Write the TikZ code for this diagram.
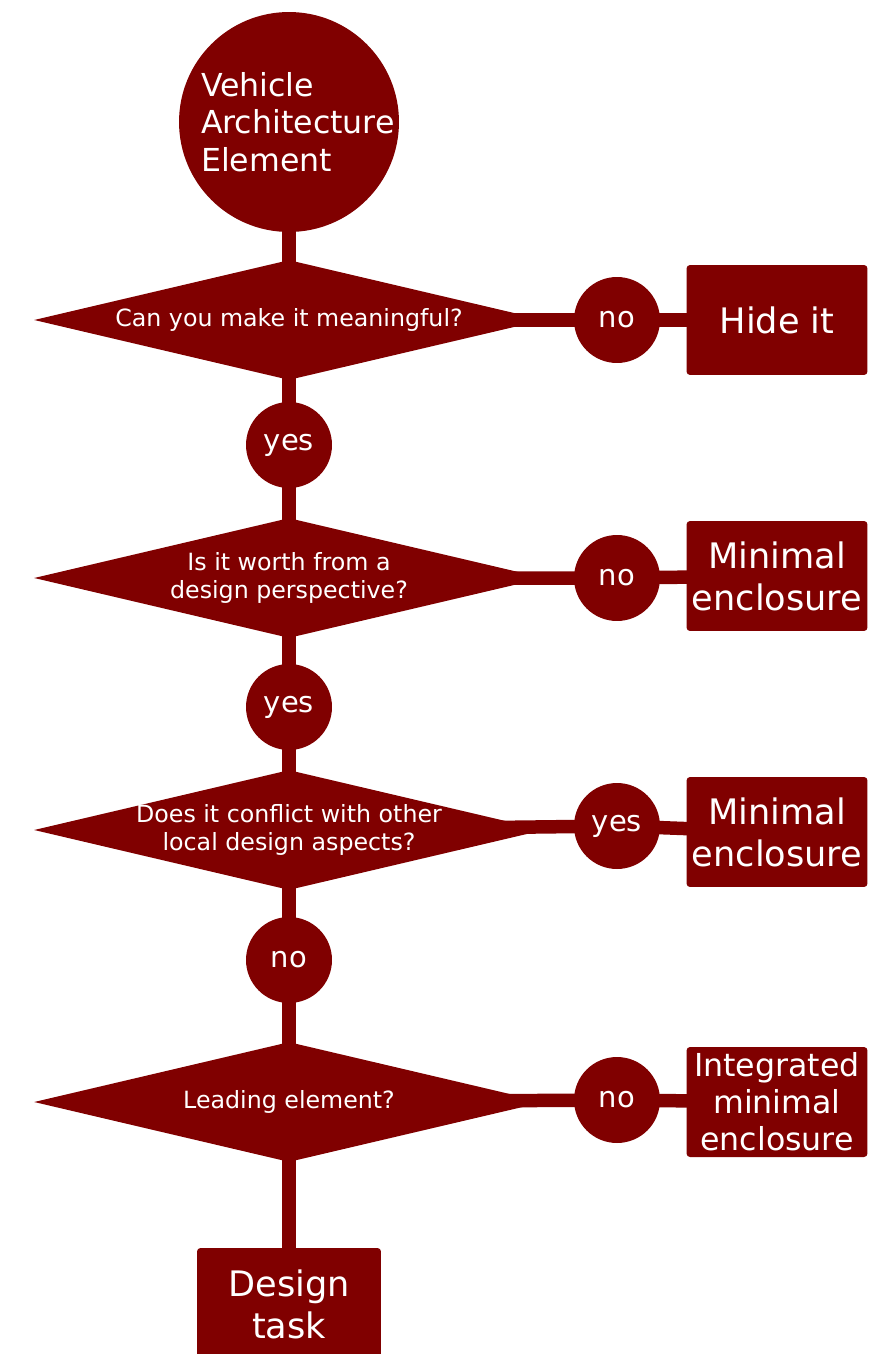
\documentclass[tikz,border=0pt]{standalone}
\usepackage{fontspec}
\setmainfont{DejaVu Sans}
\usetikzlibrary{shapes.geometric,backgrounds}
\definecolor{maroon}{HTML}{800000}

\begin{document}
\begin{tikzpicture}[x=0.02cm, y=-0.02cm,
    every node/.style={fill=maroon, text=white, inner sep=0pt},
    link/.style={draw=maroon, line width=0.27cm},
    question/.style={diamond, aspect=4.25, inner sep=-3pt, minimum width=10.2cm,
      minimum height=2.4cm, align=center, font=\fontsize{13.5}{15.5}\selectfont},
    answer/.style={circle, minimum size=1.72cm, font=\fontsize{16.5}{20}\selectfont},
    outcome/.style={rounded corners=2pt, minimum width=3.62cm, minimum height=2.2cm,
      align=center, font=\fontsize{20}{24}\selectfont}]
  \useasboundingbox (0,0) rectangle (869,1354);

  \node[circle, minimum size=4.4cm, text width=3.52cm, align=left,
    font=\fontsize{18}{21.5}\selectfont] (elem) at (289,122)
    {Vehicle\\Architecture\\Element};

  % the questions on the main line
  \foreach \name/\y/\txt in {
    q1/320/{Can you make it meaningful?},
    q2/578/{Is it worth from a\\design perspective?},
    q3/830/{Does it conflict with other\\local design aspects?},
    q4/1102/{Leading element?}} {
    \node[question] (\name) at (289,\y) {\txt};
  }

  % answers going down and going right
  \foreach \name/\x/\y/\txt in {
    a1/289/445/yes, a2/289/707/yes, a3/289/960/no,
    s1/617/320/no, s2/617/578/no, s3/617/826/yes, s4/617/1100/no} {
    \node[answer] (\name) at (\x,\y) {\txt};
  }

  \node[outcome] (o1) at (777,320) {Hide it};
  \node[outcome] (o2) at (777,576) {Minimal\\enclosure};
  \node[outcome] (o3) at (777,832) {Minimal\\enclosure};
  \node[outcome, font=\fontsize{18}{21}\selectfont] (o4) at (777,1102)
    {Integrated\\minimal\\enclosure};
  \node[outcome, minimum width=3.68cm, minimum height=2.24cm] (task) at (289,1304)
    {Design\\task};

  \begin{scope}[on background layer]
    \draw[link] (elem.center) -- (q1.center) -- (a1.center) -- (q2.center)
      -- (a2.center) -- (q3.center) -- (a3.center) -- (q4.center) -- (task.center);
    \foreach \i in {1,...,4}
      \draw[link] (q\i.center) -- (s\i.center) -- (o\i.center);
  \end{scope}
\end{tikzpicture}
\end{document}
